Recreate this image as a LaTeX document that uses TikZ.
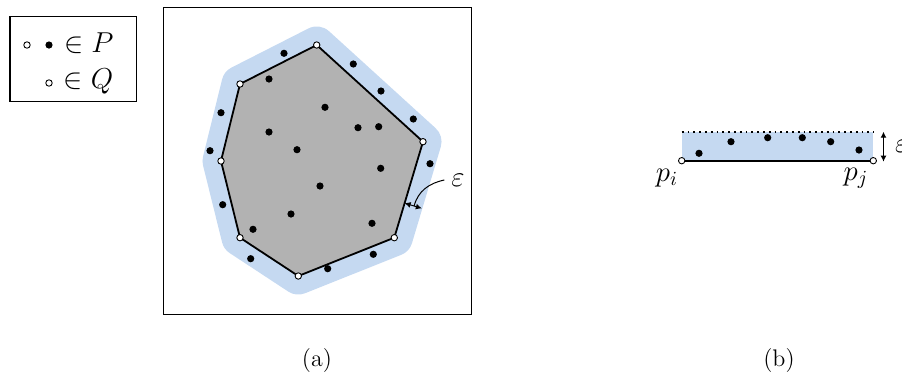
\documentclass[tikz,border=0pt]{standalone}
\usepackage{amsmath, amsfonts, amssymb}
\usepackage{tikz}
\usetikzlibrary{arrows.meta,calc,positioning}

\definecolor{bandblue}{RGB}{197,217,241}
\definecolor{hullgray}{RGB}{178,178,178}

\begin{document}
\begin{tikzpicture}[x=0.5pt,y=-0.5pt,
    pdot/.style={circle,fill=black,inner sep=0pt,minimum size=3.6pt},
    qdot/.style={circle,draw=black,fill=white,line width=0.45pt,inner sep=0pt,minimum size=3.2pt},
    edge/.style={line width=0.9pt}]
    \useasboundingbox (0,0) rectangle (902,381);
    % legend
    \draw[line width=0.8pt] (10,16.5) rectangle (136.5,101.5);
    \node[qdot] (l1) at (27,45) {};
    \node[pdot] (l2) at (49,45) {};
    \node[qdot] (l3) at (49,83) {};
    \node[right=2pt of l2,yshift=1pt] (lp) {\Large $\in P$};
    \node[right=2pt of l3,yshift=1pt] (lq) {\Large $\in Q$};
    % (a)
    \draw[line width=0.8pt] (163.5,7.5) rectangle (471.5,314.5);
    \coordinate (q1) at (316.7,45);
    \coordinate (q2) at (423,141.7);
    \coordinate (q3) at (394.3,237.7);
    \coordinate (q4) at (298.3,276);
    \coordinate (q5) at (240,237.7);
    \coordinate (q6) at (221,161);
    \coordinate (q7) at (240,84);
    \fill[bandblue] (q1) -- (q2) -- (q3) -- (q4) -- (q5) -- (q6) -- (q7) -- cycle;
    \draw[bandblue,line width=18.5pt,line join=round] (q1) -- (q2) -- (q3) -- (q4) -- (q5) -- (q6) -- (q7) -- cycle;
    \draw[edge,fill=hullgray,line join=round] (q1) -- (q2) -- (q3) -- (q4) -- (q5) -- (q6) -- (q7) -- cycle;
    \foreach \p [count=\i] in {(284,53.3),(353.3,64),(269,79),(381,91),(221,112.7),
        (325,107.3),(413.3,119),(269,132),(358,127.7),(378.7,126.7),(210,150.7),
        (297,149.7),(430,163.7),(380.7,168.3),(320,186),(222.7,204.7),(291,214),
        (372,223.3),(253,229.3),(250.7,258.7),(373.3,254.3),(327.7,268.7)}
        \node[pdot] (a\i) at \p {};
    \foreach \i in {1,...,7}
        \node[qdot] (v\i) at (q\i) {};
    \coordinate (e1) at ($(q2)!0.64!(q3)$);
    \coordinate (e2) at ($(e1)+(17.2,5.2)$);
    \draw[{Latex[length=3pt,width=3pt]}-{Latex[length=3pt,width=3pt]},line width=0.5pt] (e1) -- (e2);
    \node (eps) at (458,180) {\Large $\varepsilon$};
    \draw[line width=0.5pt] (eps.west) to[out=192,in=75] ($(e1)!0.55!(e2)$);
    \node (la) at (317,361) {\large (a)};
    % (b)
    \coordinate (bl) at (681.7,160.7);
    \coordinate (br) at (873.3,160.7);
    \coordinate (tl) at (681.7,131.7);
    \coordinate (tr) at (873.3,131.7);
    \fill[bandblue] (bl) rectangle (tr);
    \draw[dotted,line width=0.9pt] (tl) -- (tr);
    \draw[edge] (bl) -- (br);
    \foreach \p [count=\i] in {(699,153.3),(731,141.7),(767.7,137.7),(802.3,137.7),(830.7,141.7),(859,150)}
        \node[pdot] (b\i) at \p {};
    \node[qdot] (pi) at (bl) {};
    \node[qdot] (pj) at (br) {};
    \node (lpi) at (667,178) {\Large $p_i$};
    \node (lpj) at (856,178) {\Large $p_j$};
    \coordinate (h1) at (883.5,131.7);
    \coordinate (h2) at (883.5,161.7);
    \draw[{Latex[length=3pt,width=3pt]}-{Latex[length=3pt,width=3pt]},line width=0.6pt] (h1) -- (h2);
    \node[anchor=west] (epsb) at (888,146) {\Large $\varepsilon$};
    \node (lb) at (779,361) {\large (b)};
\end{tikzpicture}
\end{document}
